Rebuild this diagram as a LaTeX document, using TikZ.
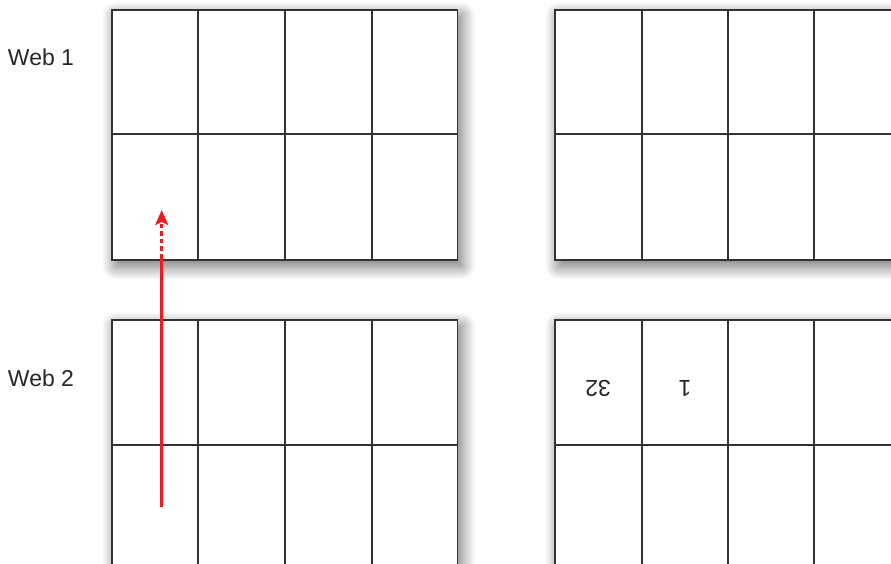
\documentclass[tikz,border=0pt]{standalone}
\usepackage{fontspec}
\setmainfont{Liberation Sans}
\usetikzlibrary{shadows.blur,arrows.meta}
\definecolor{webred}{HTML}{ED1C24}
\definecolor{gridline}{HTML}{333333}
\tikzset{
  gridbox/.style={draw=gridline, line width=1.7pt, fill=white,
    blur shadow={shadow xshift=4pt, shadow yshift=-6pt, shadow blur radius=14pt, shadow blur steps=20, shadow opacity=60}},
  gridln/.style={draw=gridline, line width=1.7pt},
  lbl/.style={font=\fontsize{23}{26}\selectfont, text=black!85, inner sep=0pt},
  pagenum/.style={font=\fontsize{23}{26}\selectfont, text=black!85, inner sep=0pt, rotate=180},
  redline/.style={draw=webred, line width=2.5pt},
}
\begin{document}
\begin{tikzpicture}[x=1pt,y=-1pt]
\useasboundingbox (0,0) rectangle (891,564);
\clip (0,0) rectangle (891,564);
% top-left grid
\path[gridbox] (112,10) rectangle (457.5,260);
\draw[gridln] (198,10) -- (198,260) (285,10) -- (285,260) (371.7,10) -- (371.7,260) (112,134) -- (457.5,134);
% top-right grid
\path[gridbox] (555,10) rectangle (901,260);
\draw[gridln] (641.7,10) -- (641.7,260) (727.7,10) -- (727.7,260) (814.3,10) -- (814.3,260) (555,134) -- (901,134);
% bottom-left grid
\path[gridbox] (112,320) rectangle (457.5,570);
\draw[gridln] (198,320) -- (198,570) (285,320) -- (285,570) (371.7,320) -- (371.7,570) (112,445) -- (457.5,445);
% bottom-right grid
\path[gridbox] (555,320) rectangle (901,570);
\draw[gridln] (641.7,320) -- (641.7,570) (727.7,320) -- (727.7,570) (814.3,320) -- (814.3,570) (555,445) -- (901,445);
% labels
\node[lbl] (web1) at (41,57) {Web 1};
\node[lbl] (web2) at (41,378) {Web 2};
\node[pagenum] (p32) at (598,388) {32};
\node[pagenum] (p1) at (685,388) {1};
% arrow
\coordinate (astart) at (161.7,507);
\coordinate (amid) at (161.7,258);
\coordinate (atip) at (161.7,210);
\draw[redline] (astart) -- (amid);
\draw[redline, dash pattern=on 4.5pt off 3pt, -{Stealth[length=15pt,width=13pt,inset=3pt,sep=0pt]}] (amid) -- (atip);
\end{tikzpicture}
\end{document}
